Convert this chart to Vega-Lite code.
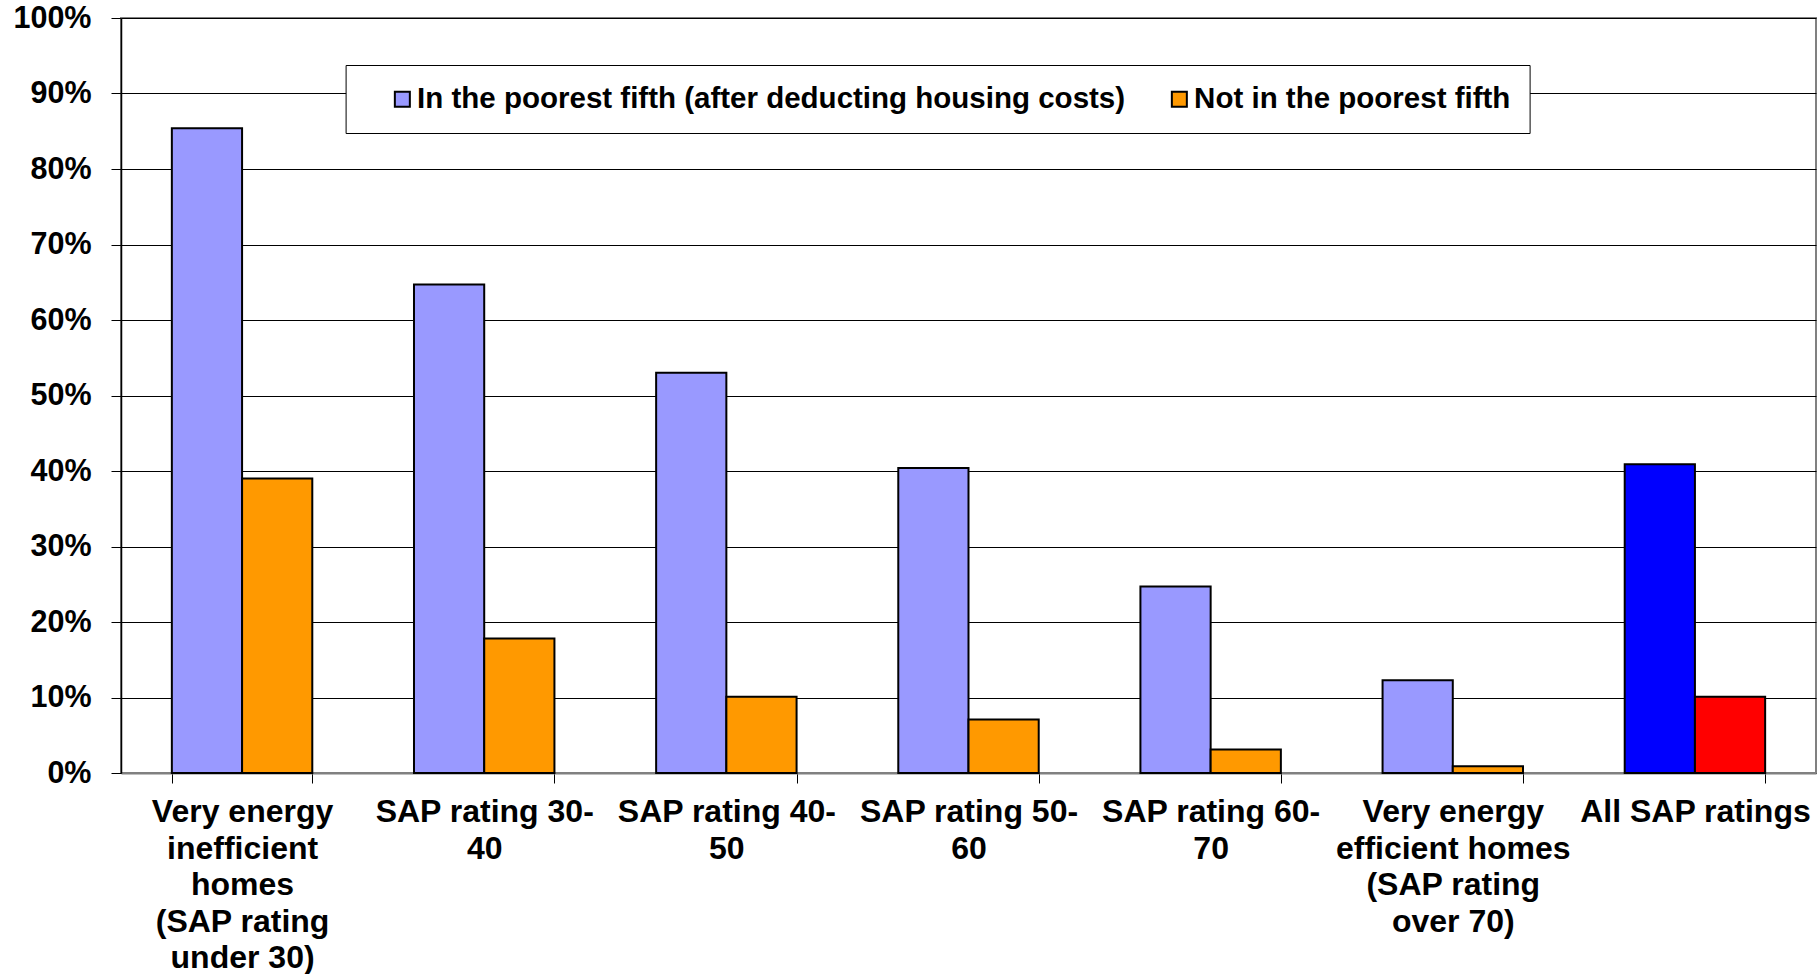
{
  "$schema": "https://vega.github.io/schema/vega-lite/v6.json",
  "width": 1695,
  "height": 755,
  "autosize": {"type": "none"},
  "padding": {"left": 121, "top": 18, "right": 2, "bottom": 201},
  "background": "white",
  "config": {
    "font": "Liberation Sans",
    "view": {"stroke": "#808080", "strokeWidth": 2}
  },
  "data": {
    "values": [
      {"category": "Very energy|inefficient|homes|(SAP rating|under 30)", "series": "In the poorest fifth (after deducting housing costs)", "value": 0.854},
      {"category": "Very energy|inefficient|homes|(SAP rating|under 30)", "series": "Not in the poorest fifth", "value": 0.390},
      {"category": "SAP rating 30-|40", "series": "In the poorest fifth (after deducting housing costs)", "value": 0.647},
      {"category": "SAP rating 30-|40", "series": "Not in the poorest fifth", "value": 0.178},
      {"category": "SAP rating 40-|50", "series": "In the poorest fifth (after deducting housing costs)", "value": 0.530},
      {"category": "SAP rating 40-|50", "series": "Not in the poorest fifth", "value": 0.101},
      {"category": "SAP rating 50-|60", "series": "In the poorest fifth (after deducting housing costs)", "value": 0.404},
      {"category": "SAP rating 50-|60", "series": "Not in the poorest fifth", "value": 0.071},
      {"category": "SAP rating 60-|70", "series": "In the poorest fifth (after deducting housing costs)", "value": 0.247},
      {"category": "SAP rating 60-|70", "series": "Not in the poorest fifth", "value": 0.031},
      {"category": "Very energy|efficient homes|(SAP rating|over 70)", "series": "In the poorest fifth (after deducting housing costs)", "value": 0.123},
      {"category": "Very energy|efficient homes|(SAP rating|over 70)", "series": "Not in the poorest fifth", "value": 0.009},
      {"category": "All SAP ratings", "series": "In the poorest fifth (after deducting housing costs)", "value": 0.409},
      {"category": "All SAP ratings", "series": "Not in the poorest fifth", "value": 0.101}
    ]
  },
  "mark": {"type": "bar", "stroke": "#000", "strokeWidth": 2},
  "encoding": {
    "x": {
      "field": "category", "type": "nominal", "sort": null, "title": null,
      "scale": {"paddingInner": 0.42, "paddingOuter": 0.21},
      "axis": {
        "labelAngle": 0, "labelExpr": "split(datum.label, '|')",
        "labelFont": "Liberation Sans", "labelFontSize": 32, "labelFontWeight": "bold",
        "labelColor": "#000", "labelLineHeight": 36.5, "labelPadding": 13.5, "labelLimit": 0,
        "labelOverlap": false,
        "tickBand": "extent", "tickSize": 10, "tickColor": "#000", "tickWidth": 1,
        "domainColor": "#808080", "domainWidth": 2, "grid": false
      }
    },
    "xOffset": {"field": "series", "type": "nominal", "sort": null, "scale": {"paddingInner": 0, "paddingOuter": 0}},
    "y": {
      "field": "value", "type": "quantitative", "title": null,
      "scale": {"domain": [0, 1], "nice": false},
      "axis": {
        "values": [0, 0.1, 0.2, 0.3, 0.4, 0.5, 0.6, 0.7, 0.8, 0.9, 1],
        "format": ".0%",
        "labelFont": "Liberation Sans", "labelFontSize": 30.5, "labelFontWeight": "bold",
        "labelColor": "#000", "labelPadding": 20,
        "gridColor": "#000", "gridWidth": 1, "gridOpacity": 1,
        "tickSize": 10, "tickColor": "#000", "tickWidth": 1,
        "domainColor": "#000", "domainWidth": 1.5
      }
    },
    "color": {
      "field": "series", "type": "nominal",
      "scale": {
        "domain": ["In the poorest fifth (after deducting housing costs)", "Not in the poorest fifth"],
        "range": ["#9999FF", "#FF9900"]
      },
      "condition": [
        {"test": "datum.category === 'All SAP ratings' && datum.series === 'Not in the poorest fifth'", "value": "#FF0000"},
        {"test": "datum.category === 'All SAP ratings'", "value": "#0000FF"}
      ],
      "legend": {
        "orient": "none", "legendX": 224.6, "legendY": 47, "direction": "horizontal",
        "title": " ", "titleOrient": "left", "titleFontSize": 1, "titlePadding": 23,
        "symbolType": "square", "symbolSize": 225, "symbolStrokeColor": "#000", "symbolStrokeWidth": 2,
        "symbolOpacity": 1,
        "labelFont": "Liberation Sans", "labelFontSize": 29.5, "labelFontWeight": "bold", "labelColor": "#000",
        "labelLimit": 0, "labelOffset": 0, "columnPadding": 39, "padding": 19,
        "strokeColor": "#000", "fillColor": "#fff"
      }
    }
  }
}
